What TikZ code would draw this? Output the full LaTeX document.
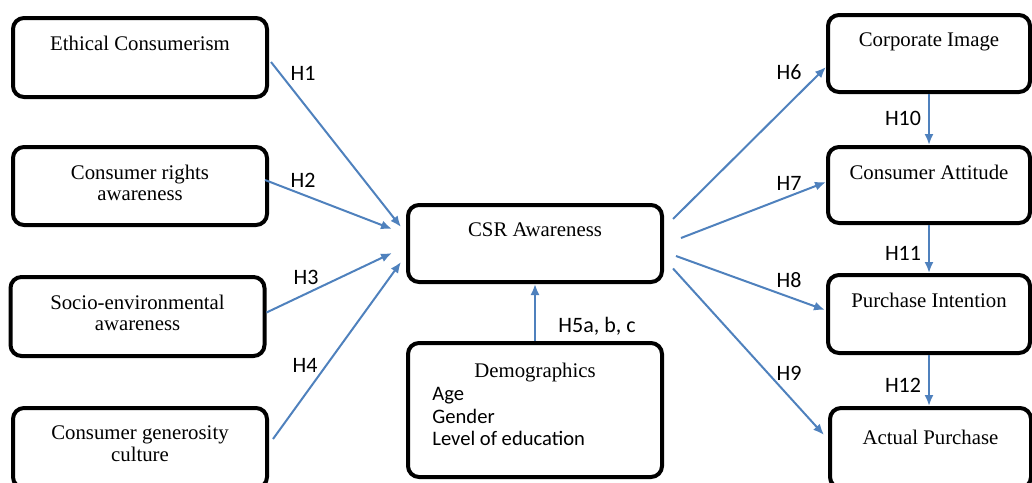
\documentclass[tikz,border=0pt]{standalone}
\usepackage{fontspec}
\setmainfont{Liberation Serif}
\newfontfamily\hfont{Carlito}
\usetikzlibrary{arrows.meta,calc}
\definecolor{hblue}{HTML}{4F81BD}

\begin{document}
\begin{tikzpicture}[x=0.5pt,y=-0.5pt,
  box/.style={draw,line width=2pt,rounded corners=5.5pt,minimum width=127pt,inner sep=0pt},
  rbox/.style={box,minimum width=101pt},
  ttl/.style={anchor=north,yshift=-9.7pt,inner sep=0pt,align=center,font=\fontsize{10.4}{10.8}\selectfont},
  lst/.style={anchor=north west,inner sep=0pt,align=left,font=\hfont\fontsize{10.3}{11.3}\selectfont},
  hyp/.style={font=\hfont\fontsize{11}{13}\selectfont,inner sep=0pt},
  link/.style={draw=hblue,line width=1pt,-{Latex[length=5.5pt,width=4.5pt]}}]
\useasboundingbox (0,0) rectangle (1032,482);
\clip (0,0) rectangle (1032,482);

% left column
\node[box,minimum height=39.5pt,label={[ttl]north:Ethical Consumerism}] (eth) at (140,57.5) {};
\node[box,minimum height=39pt,label={[ttl]north:Consumer rights\\awareness}] (cra) at (140,186) {};
\node[box,minimum height=39.5pt,label={[ttl]north:Socio-environmental\\awareness}] (soc) at (137.5,316.5) {};
\node[box,minimum height=40pt,label={[ttl]north:Consumer generosity\\culture}] (gen) at (140,448) {};

% middle
\node[box,minimum height=38.5pt,label={[ttl]north:CSR Awareness}] (csr) at (535,243.5) {};
\node[box,minimum height=67pt,label={[ttl,yshift=-1pt]north:Demographics},
  label={[lst,xshift=13pt,yshift=-23pt]north west:Age\\Gender\\Level of education}] (dem) at (535,410) {};

% right column
\node[rbox,minimum height=38.5pt,label={[ttl]north:Corporate Image}] (img) at (929,53.5) {};
\node[rbox,minimum height=38pt,label={[ttl]north:Consumer Attitude}] (att) at (929,185) {};
\node[rbox,minimum height=39pt,label={[ttl]north:Purchase Intention}] (int) at (929,314) {};
\node[rbox,minimum width=100.5pt,minimum height=40pt,label={[ttl,yshift=-2pt]north:Actual Purchase}] (act) at (930.5,448) {};

% hypotheses
\draw[link] ($(eth.east)+(2,4.5)$) -- ($(csr.west)+(-5,-16.5)$);
\draw[link] ($(cra.east)+(-4,-6)$) -- ($(csr.west)+(-14,-14.5)$);
\draw[link] ($(soc.east)+(0,-4)$) -- ($(csr.west)+(-14,9.5)$);
\draw[link] ($(gen.east)+(4,-9)$) -- ($(csr.west)+(-5,18.5)$);
\draw[link] (dem.north) -- (csr.south);
\draw[link] ($(csr.east)+(9,-24.5)$) -- ($(img.west)+(0,13.5)$);
\draw[link] ($(csr.east)+(17,-5.5)$) -- ($(att.west)+(0,-3)$);
\draw[link] ($(csr.east)+(12,12.5)$) -- ($(int.west)+(-1,-4)$);
\draw[link] ($(csr.east)+(9,25)$) -- ($(act.west)+(-4,-13)$);
\foreach \a/\b in {img/att,att/int}
    \draw[link] (\a.south) -- (\b.north);
\draw[link] (int.south) -- (int.south |- act.north);

\node[hyp] (h1) at (303,73) {H1};
\node[hyp] (h2) at (303,180) {H2};
\node[hyp] (h3) at (306,277) {H3};
\node[hyp] (h4) at (305,365) {H4};
\node[hyp] (h5) at (597,326) {H5a, b, c};
\node[hyp] (h6) at (789,72) {H6};
\node[hyp] (h7) at (789,183) {H7};
\node[hyp] (h8) at (789,280) {H8};
\node[hyp] (h9) at (789,373) {H9};
\node[hyp] (h10) at (903,118) {H10};
\node[hyp] (h11) at (903,253) {H11};
\node[hyp] (h12) at (903,385) {H12};
\end{tikzpicture}
\end{document}
